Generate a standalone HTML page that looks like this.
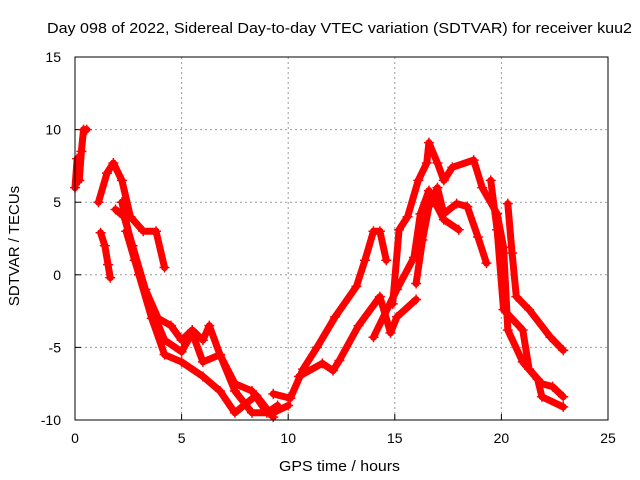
<!DOCTYPE html>
<html><head><meta charset="utf-8"><style>
body{margin:0;background:#fff;}
svg{display:block;font-family:"Liberation Sans",sans-serif;}
</style></head><body>
<svg id="chart" width="640" height="480">
<text x="47" y="33" font-size="15" textLength="585" lengthAdjust="spacingAndGlyphs">Day 098 of 2022, Sidereal Day-to-day VTEC variation (SDTVAR) for receiver kuu2</text>
<text x="279" y="471" font-size="15" textLength="121" lengthAdjust="spacingAndGlyphs">GPS time / hours</text>
<text transform="translate(19,246) rotate(-90)" font-size="15" text-anchor="middle">SDTVAR / TECUs</text>
<g id="grid"></g><g id="marks"></g>
<rect x="75" y="57" width="533" height="363" fill="none" stroke="#000" stroke-width="1"/>
</svg>
<script>
const xTicks=[0,5,10,15,20,25];
const yTicks=[-10,-5,0,5,10,15];
const trackA=[[0,6],[0.1,8],[0.2,6.5],[0.3,8.5],[0.4,10],[0.55,10]];
const trackB=[[1.1,5],[1.5,7],[1.8,7.7],[2.2,6.5],[2.6,4],[3.2,3],[3.8,3],[4.2,0.5]];
const trackC=[[1.9,4.5],[2.3,4],[2.7,2],[3.3,-1],[3.9,-3],[4.5,-3.5],[5,-4.5],[5.5,-3.8],[6,-4.5],[6.3,-3.5],[6.8,-5.5],[7.5,-7.5],[8.3,-8],[9,-9.5],[9.5,-9]];
const trackD=[[2.2,5],[2.8,1],[3.5,-2],[4.2,-4.5],[5,-5.3],[5.5,-4],[6,-6],[6.8,-5.5],[7.5,-8],[8.3,-9.5],[9.3,-9.5],[10,-9]];
const trackE=[[2.4,3],[3,0],[3.6,-3],[4.2,-5.5],[5,-6],[6,-7],[6.8,-8],[7.5,-9.5],[8.5,-8.3],[9.3,-9.8]];
const trackF=[[1.2,2.9],[1.4,2],[1.55,0.7],[1.65,-0.2]];
const trackG=[[9.3,-8.2],[10.1,-8.5],[10.7,-6.5],[11.35,-5],[12.2,-2.9],[13.2,-0.8],[13.6,1],[14,3],[14.3,3],[14.6,1]];
const trackH=[[10.5,-7],[11.6,-6.1],[12.1,-6.6],[12.4,-5.9],[13.3,-3.5],[14.3,-1.5],[14.8,-4],[15.1,-2.9],[16,-1.7]];
const trackI=[[14.9,-2],[15.2,3.1],[15.6,4],[16.1,6.5],[16.5,7.7],[16.6,9.1],[17,7.7],[17.3,6.5],[17.7,7.4],[18.7,7.9],[19.1,6],[19.8,4.2],[20.1,1.9],[20.3,-3.8],[21,-6],[21.7,-7.2],[21.9,-8.4],[22.9,-9.1]];
const trackJ=[[16,-0.6],[16.3,2.4],[16.6,4.7],[17,6],[17.3,4.2],[17.9,4.9],[18.4,4.7],[18.9,2.6],[19.3,0.8]];
const trackK=[[14,-4.3],[15.1,-1],[15.9,1.2],[16.2,4.2],[16.6,5.8],[17.3,3.8],[18,3.1]];
const trackL=[[20.3,4.9],[20.5,1.5],[20.7,-1.5],[21.3,-2.4],[22.3,-4.3],[22.9,-5.2]];
const trackM=[[19.5,6.5],[19.8,3.1],[20.1,-2.4],[21,-3.8],[21.3,-6.5],[21.9,-7.5],[22.4,-7.7],[22.9,-8.4]];
const tracks=[trackA,trackB,trackC,trackD,trackE,trackF,trackG,trackH,trackI,trackJ,trackK,trackL,trackM];
const X=h=>75+h*533/25;
const Y=v=>57+(15-v)*363/25;
const ns="http://www.w3.org/2000/svg";
const grid=document.getElementById('grid'), marks=document.getElementById('marks');
function mk(t,a,p){const e=document.createElementNS(ns,t);for(const k in a)e.setAttribute(k,a[k]);p.appendChild(e);return e;}
xTicks.forEach(t=>{
  if(t>0&&t<25){const l=mk('line',{x1:X(t),x2:X(t),y1:57,y2:420,stroke:'#999','stroke-dasharray':'2,3'},grid);
  
  }
  const tk=mk('line',{x1:X(t),x2:X(t),y1:420,y2:414,stroke:'#000'},grid);
  
  
  const tx=mk('text',{x:X(t),y:443,'font-size':14,'text-anchor':'middle'},grid);tx.textContent=t;
  
  
});
yTicks.forEach(t=>{
  if(t>-10&&t<15){const l=mk('line',{x1:75,x2:608,y1:Y(t),y2:Y(t),stroke:'#999','stroke-dasharray':'2,3'},grid);
  
  }
  const tk=mk('line',{x1:75,x2:81,y1:Y(t),y2:Y(t),stroke:'#000'},grid);
  
  
  const tx=mk('text',{x:61,y:Y(t)+5,'font-size':14,'text-anchor':'end'},grid);tx.textContent=t;
  
  
});
tracks.forEach((tr,i)=>{
  const pl=mk('polyline',{points:tr.map(p=>X(p[0])+','+Y(p[1])).join(' '),fill:'none',stroke:'#f00','stroke-width':7,'stroke-linejoin':'round','stroke-linecap':'round'},marks);
  
  
  tr.forEach(p=>{
    const cx=X(p[0]),cy=Y(p[1]);
    const m=mk('path',{d:`M${cx-5},${cy}h10M${cx},${cy-5}v10`,stroke:'#f00','stroke-width':1.5},marks);
    
    
  });
});
</script>
</body></html>
